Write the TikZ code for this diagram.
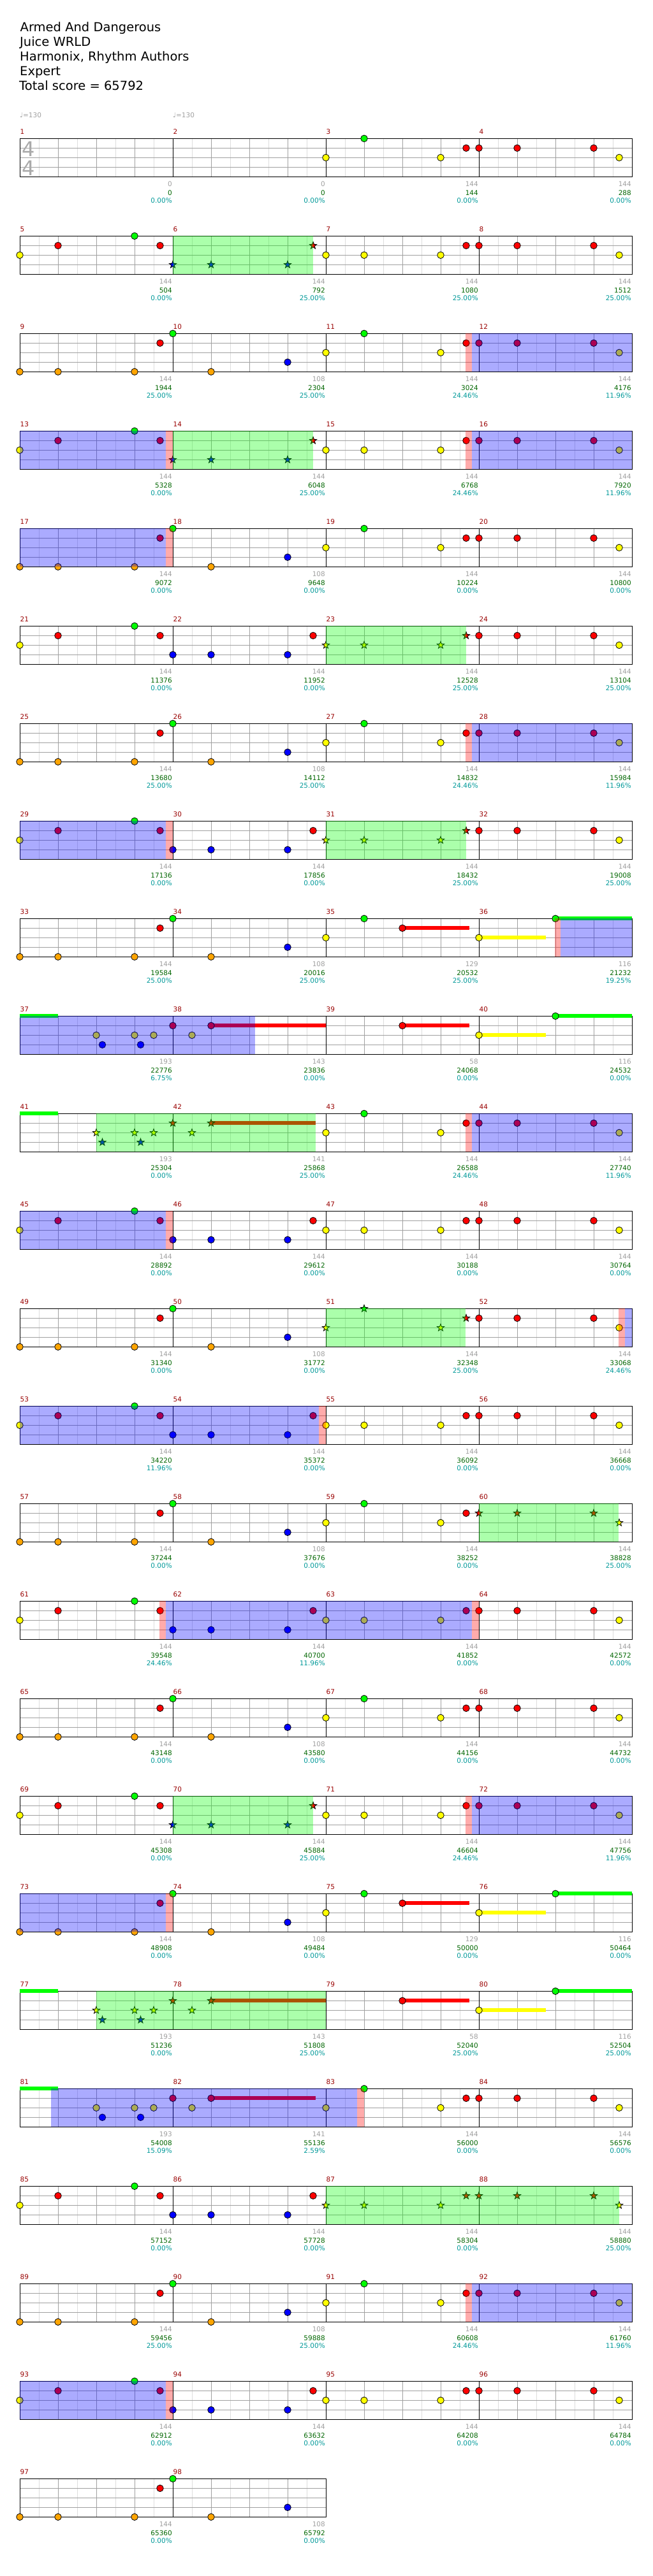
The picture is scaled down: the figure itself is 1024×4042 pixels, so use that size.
\documentclass[tikz,border=0pt]{standalone}
\usepackage{fontspec}
\setmainfont{DejaVu Sans}
\definecolor{ny}{HTML}{FFFF00}
\definecolor{ng}{HTML}{00FF00}
\definecolor{nr}{HTML}{FF0000}
\definecolor{nb}{HTML}{0000FF}
\definecolor{no}{HTML}{FFA500}
\definecolor{lgc}{HTML}{DDDDDD}
\definecolor{mgc}{HTML}{A0A0A0}
\definecolor{labg}{HTML}{A0A0A0}
\definecolor{labs}{HTML}{006600}
\definecolor{labp}{HTML}{009999}
\definecolor{mnc}{HTML}{990000}
\definecolor{tsc}{HTML}{AAAAAA}
\tikzset{
  notec/.style={draw=black,line width=0.8pt},
  lgl/.style={draw=lgc,line width=1pt},
  mgl/.style={draw=mgc,line width=1pt},
  bkl/.style={draw=black,line width=1pt},
  lab/.style={inner sep=0pt,font=\fontsize{10.5}{12}\selectfont},
  mnum/.style={inner sep=0pt,text=mnc,font=\fontsize{10.5}{12}\selectfont},
  ttl/.style={inner sep=0pt,font=\fontsize{19.5}{23}\selectfont,anchor=base west},
  tsig/.style={inner sep=0pt,text=tsc,font=\fontsize{32}{32}\selectfont,anchor=base west},
}
% note circle: row, x, lane, colour
\newcommand\nc[4]{\filldraw[notec,fill=#4] ({#2},{217.3+153*(#1)+15*(#3)}) circle[radius=5.3pt];}
% note star
\newcommand\ns[4]{\filldraw[notec,fill=#4,line join=miter] ({#2},{217.3+153*(#1)+15*(#3)}) +(-90:6) -- +(-54:2.4) -- +(-18:6) -- +(18:2.4) -- +(54:6) -- +(90:2.4) -- +(126:6) -- +(162:2.4) -- +(198:6) -- +(234:2.4) -- cycle;}
% sustain lane: row, x1, x2, lane, colour
\newcommand\lane[5]{\draw[line width=6pt,#5] ({#2},{217.3+153*(#1)+15*(#4)}) -- ({#3},{217.3+153*(#1)+15*(#4)});}
% overlay: row, x1, x2, colour
\newcommand\ov[4]{\fill[#4,fill opacity=0.33] ({#2},{217.3+153*(#1)}) rectangle ({#3},{217.3+153*(#1)+60});}
\newcommand\grid[2]{%
 \pgfmathsetmacro\Ty{217.3+153*(#1)}%
 \pgfmathsetmacro\XE{31+240*(#2)}%
 \foreach \m in {1,...,#2}{%
   \pgfmathsetmacro\XO{31+240*(\m-1)}%
   \foreach \d in {30,90,150,210}{\draw[lgl] ({\XO+\d},\Ty) -- ({\XO+\d},{\Ty+60});}%
 }%
 \foreach \h in {15,30,45}{\draw[mgl] (31,{\Ty+\h}) -- (\XE,{\Ty+\h});}%
 \foreach \m in {1,...,#2}{%
   \pgfmathsetmacro\XO{31+240*(\m-1)}%
   \foreach \d in {60,120,180}{\draw[mgl] ({\XO+\d},\Ty) -- ({\XO+\d},{\Ty+60});}%
   \draw[bkl] (\XO,\Ty) -- (\XO,{\Ty+60});%
 }%
 \draw[bkl] (31,\Ty) rectangle (\XE,{\Ty+60});%
}
\newcommand\Pone[3]{#3{#1}{#2}{2}{ny}#3{#1}{#2+60}{0}{ng}#3{#1}{#2+180}{2}{ny}#3{#1}{#2+220}{1}{nr}}
\newcommand\Ptwo[3]{#3{#1}{#2}{1}{nr}#3{#1}{#2+60}{1}{nr}#3{#1}{#2+180}{1}{nr}#3{#1}{#2+220}{2}{ny}}
\newcommand\Pthree[3]{#3{#1}{#2}{2}{ny}#3{#1}{#2+60}{1}{nr}#3{#1}{#2+180}{0}{ng}#3{#1}{#2+220}{1}{nr}}
\newcommand\Pfour[3]{#3{#1}{#2}{3}{nb}#3{#1}{#2+60}{3}{nb}#3{#1}{#2+180}{3}{nb}#3{#1}{#2+220}{1}{nr}}
\newcommand\Pfive[3]{#3{#1}{#2}{2}{ny}#3{#1}{#2+60}{2}{ny}#3{#1}{#2+180}{2}{ny}#3{#1}{#2+220}{1}{nr}}
\newcommand\Psix[3]{#3{#1}{#2}{4}{no}#3{#1}{#2+60}{4}{no}#3{#1}{#2+180}{4}{no}#3{#1}{#2+220}{1}{nr}}
\newcommand\Pseven[3]{#3{#1}{#2}{0}{ng}#3{#1}{#2+60}{4}{no}#3{#1}{#2+180}{3}{nb}}
\newcommand\Pfill[2]{#2{#1}{151}{2}{ny}#2{#1}{160.5}{3}{nb}#2{#1}{211}{2}{ny}#2{#1}{220.5}{3}{nb}#2{#1}{241}{2}{ny}#2{#1}{271}{1}{nr}#2{#1}{301}{2}{ny}#2{#1}{331}{1}{nr}}
\newcommand\Sa[2]{\lane{#1}{#2+120}{#2+224.6}{1}{nr}\nc{#1}{#2}{2}{ny}\nc{#1}{#2+60}{0}{ng}\nc{#1}{#2+120}{1}{nr}}
\newcommand\Sb[2]{\lane{#1}{#2}{#2+105}{2}{ny}\lane{#1}{#2+120}{#2+240}{0}{ng}\nc{#1}{#2}{2}{ny}\nc{#1}{#2+120}{0}{ng}}
\newcommand\Sc[2]{\lane{#1}{#2+120}{#2+224.6}{1}{nr}\nc{#1}{#2+120}{1}{nr}}
\begin{document}
\begin{tikzpicture}[x=1pt,y=-1pt]
\fill[white] (0,0) rectangle (1024,4042);
\useasboundingbox (0,0) rectangle (1024,4042);
% header
\node[ttl] (t1) at (31.5,49) {Armed And Dangerous};
\node[ttl] (t2) at (31,72) {Juice WRLD};
\node[ttl] (t3) at (31,95) {Harmonix, Rhythm Authors};
\node[ttl] (t4) at (31,118) {Expert};
\node[ttl] (t5) at (30,141) {Total score = 65792};
\node[lab,text=labg,anchor=base west] (tp1) at (31,184.3) {♩=130};
\node[lab,text=labg,anchor=base west] (tp2) at (271,184.3) {♩=130};
% grids
\foreach \r in {0,...,23}{\grid{\r}{4}}
\grid{24}{2}
\node[tsig] (ts1) at (34,245) {4};
\node[tsig] (ts2) at (34,275) {4};
% rows
\Pone{0}{511}{\nc}\Ptwo{0}{751}{\nc}
%
\Pthree{1}{31}{\nc}\Pfour{1}{271}{\ns}\Pfive{1}{511}{\nc}\Ptwo{1}{751}{\nc}
\ov{1}{271}{491}{ng}
%
\Psix{2}{31}{\nc}\Pseven{2}{271}{\nc}\Pone{2}{511}{\nc}\Ptwo{2}{751}{\nc}
\ov{2}{730}{740}{nr}\ov{2}{740}{991}{nb}
%
\Pthree{3}{31}{\nc}\Pfour{3}{271}{\ns}\Pfive{3}{511}{\nc}\Ptwo{3}{751}{\nc}
\ov{3}{31}{260}{nb}\ov{3}{260}{271}{nr}\ov{3}{271}{491}{ng}\ov{3}{730}{740}{nr}\ov{3}{740}{991}{nb}
%
\Psix{4}{31}{\nc}\Pseven{4}{271}{\nc}\Pone{4}{511}{\nc}\Ptwo{4}{751}{\nc}
\ov{4}{31}{260}{nb}\ov{4}{260}{271}{nr}
%
\Pthree{5}{31}{\nc}\Pfour{5}{271}{\nc}\Pfive{5}{511}{\ns}\Ptwo{5}{751}{\nc}
\ov{5}{511}{731}{ng}
%
\Psix{6}{31}{\nc}\Pseven{6}{271}{\nc}\Pone{6}{511}{\nc}\Ptwo{6}{751}{\nc}
\ov{6}{730}{740}{nr}\ov{6}{740}{991}{nb}
%
\Pthree{7}{31}{\nc}\Pfour{7}{271}{\nc}\Pfive{7}{511}{\ns}\Ptwo{7}{751}{\nc}
\ov{7}{31}{260}{nb}\ov{7}{260}{271}{nr}\ov{7}{511}{731}{ng}
%
\Psix{8}{31}{\nc}\Pseven{8}{271}{\nc}\Sa{8}{511}\Sb{8}{751}
\ov{8}{870}{879}{nr}\ov{8}{879}{991}{nb}
%
\lane{9}{31}{91}{0}{ng}\lane{9}{331}{511}{1}{nr}\Pfill{9}{\nc}\Sc{9}{511}\Sb{9}{751}
\ov{9}{31}{400}{nb}
%
\lane{10}{31}{91}{0}{ng}\lane{10}{331}{495}{1}{nr}\Pfill{10}{\ns}\Pone{10}{511}{\nc}\Ptwo{10}{751}{\nc}
\ov{10}{151}{495}{ng}\ov{10}{730}{740}{nr}\ov{10}{740}{991}{nb}
%
\Pthree{11}{31}{\nc}\Pfour{11}{271}{\nc}\Pfive{11}{511}{\nc}\Ptwo{11}{751}{\nc}
\ov{11}{31}{260}{nb}\ov{11}{260}{271}{nr}
%
\Psix{12}{31}{\nc}\Pseven{12}{271}{\nc}\Pone{12}{511}{\ns}\Ptwo{12}{751}{\nc}
\ov{12}{511}{730}{ng}\ov{12}{970}{980}{nr}\ov{12}{980}{991}{nb}
%
\Pthree{13}{31}{\nc}\Pfour{13}{271}{\nc}\Pfive{13}{511}{\nc}\Ptwo{13}{751}{\nc}
\ov{13}{31}{500}{nb}\ov{13}{500}{511}{nr}
%
\Psix{14}{31}{\nc}\Pseven{14}{271}{\nc}\Pone{14}{511}{\nc}\Ptwo{14}{751}{\ns}
\ov{14}{751}{970}{ng}
%
\Pthree{15}{31}{\nc}\Pfour{15}{271}{\nc}\Pfive{15}{511}{\nc}\Ptwo{15}{751}{\nc}
\ov{15}{250}{260}{nr}\ov{15}{260}{740}{nb}\ov{15}{740}{751}{nr}
%
\Psix{16}{31}{\nc}\Pseven{16}{271}{\nc}\Pone{16}{511}{\nc}\Ptwo{16}{751}{\nc}
%
\Pthree{17}{31}{\nc}\Pfour{17}{271}{\ns}\Pfive{17}{511}{\nc}\Ptwo{17}{751}{\nc}
\ov{17}{271}{491}{ng}\ov{17}{730}{740}{nr}\ov{17}{740}{991}{nb}
%
\Psix{18}{31}{\nc}\Pseven{18}{271}{\nc}\Sa{18}{511}\Sb{18}{751}
\ov{18}{31}{260}{nb}\ov{18}{260}{271}{nr}
%
\lane{19}{31}{91}{0}{ng}\lane{19}{331}{511}{1}{nr}\Pfill{19}{\ns}\Sc{19}{511}\Sb{19}{751}
\ov{19}{151}{511}{ng}
%
\lane{20}{31}{91}{0}{ng}\lane{20}{331}{495}{1}{nr}\Pfill{20}{\nc}\Pone{20}{511}{\nc}\Ptwo{20}{751}{\nc}
\ov{20}{80}{560}{nb}\ov{20}{560}{571}{nr}
%
\Pthree{21}{31}{\nc}\Pfour{21}{271}{\nc}\Pfive{21}{511}{\ns}\Ptwo{21}{751}{\ns}
\ov{21}{511}{971}{ng}
%
\Psix{22}{31}{\nc}\Pseven{22}{271}{\nc}\Pone{22}{511}{\nc}\Ptwo{22}{751}{\nc}
\ov{22}{730}{740}{nr}\ov{22}{740}{991}{nb}
%
\Pthree{23}{31}{\nc}\Pfour{23}{271}{\nc}\Pfive{23}{511}{\nc}\Ptwo{23}{751}{\nc}
\ov{23}{31}{260}{nb}\ov{23}{260}{271}{nr}
%
\Psix{24}{31}{\nc}\Pseven{24}{271}{\nc}
% measure numbers
\foreach \i in {1,...,98}{%
  \pgfmathtruncatemacro\rr{floor((\i-1)/4)}%
  \pgfmathtruncatemacro\cc{\i-1-4*\rr}%
  \node[mnum,anchor=base west] (mn\i) at ({31.5+240*\cc},{217.3+153*\rr-7}) {\i};
}
% labels under measures
\foreach \la/\lb/\lc [count=\i from 0] in {0/0/0.00,0/0/0.00,144/144/0.00,144/288/0.00,144/504/0.00,144/792/25.00,144/1080/25.00,144/1512/25.00,144/1944/25.00,108/2304/25.00,144/3024/24.46,144/4176/11.96,144/5328/0.00,144/6048/25.00,144/6768/24.46,144/7920/11.96,144/9072/0.00,108/9648/0.00,144/10224/0.00,144/10800/0.00,144/11376/0.00,144/11952/0.00,144/12528/25.00,144/13104/25.00,144/13680/25.00,108/14112/25.00,144/14832/24.46,144/15984/11.96,144/17136/0.00,144/17856/0.00,144/18432/25.00,144/19008/25.00,144/19584/25.00,108/20016/25.00,129/20532/25.00,116/21232/19.25,193/22776/6.75,143/23836/0.00,58/24068/0.00,116/24532/0.00,193/25304/0.00,141/25868/25.00,144/26588/24.46,144/27740/11.96,144/28892/0.00,144/29612/0.00,144/30188/0.00,144/30764/0.00,144/31340/0.00,108/31772/0.00,144/32348/25.00,144/33068/24.46,144/34220/11.96,144/35372/0.00,144/36092/0.00,144/36668/0.00,144/37244/0.00,108/37676/0.00,144/38252/0.00,144/38828/25.00,144/39548/24.46,144/40700/11.96,144/41852/0.00,144/42572/0.00,144/43148/0.00,108/43580/0.00,144/44156/0.00,144/44732/0.00,144/45308/0.00,144/45884/25.00,144/46604/24.46,144/47756/11.96,144/48908/0.00,108/49484/0.00,129/50000/0.00,116/50464/0.00,193/51236/0.00,143/51808/25.00,58/52040/25.00,116/52504/25.00,193/54008/15.09,141/55136/2.59,144/56000/0.00,144/56576/0.00,144/57152/0.00,144/57728/0.00,144/58304/0.00,144/58880/25.00,144/59456/25.00,108/59888/25.00,144/60608/24.46,144/61760/11.96,144/62912/0.00,144/63632/0.00,144/64208/0.00,144/64784/0.00,144/65360/0.00,108/65792/0.00}{%
  \pgfmathtruncatemacro\rr{floor(\i/4)}%
  \pgfmathtruncatemacro\cc{\i-4*\rr}%
  \pgfmathsetmacro\xe{31+240*(\cc+1)-1}%
  \pgfmathsetmacro\ty{217.3+153*\rr}%
  \node[lab,text=labg,anchor=base east] (la\i) at (\xe,{\ty+75.4}) {\la};
  \node[lab,text=labs,anchor=base east] (lb\i) at (\xe,{\ty+88.7}) {\lb};
  \node[lab,text=labp,anchor=base east] (lc\i) at (\xe,{\ty+101.4}) {\lc\%};
}
\end{tikzpicture}
\end{document}
